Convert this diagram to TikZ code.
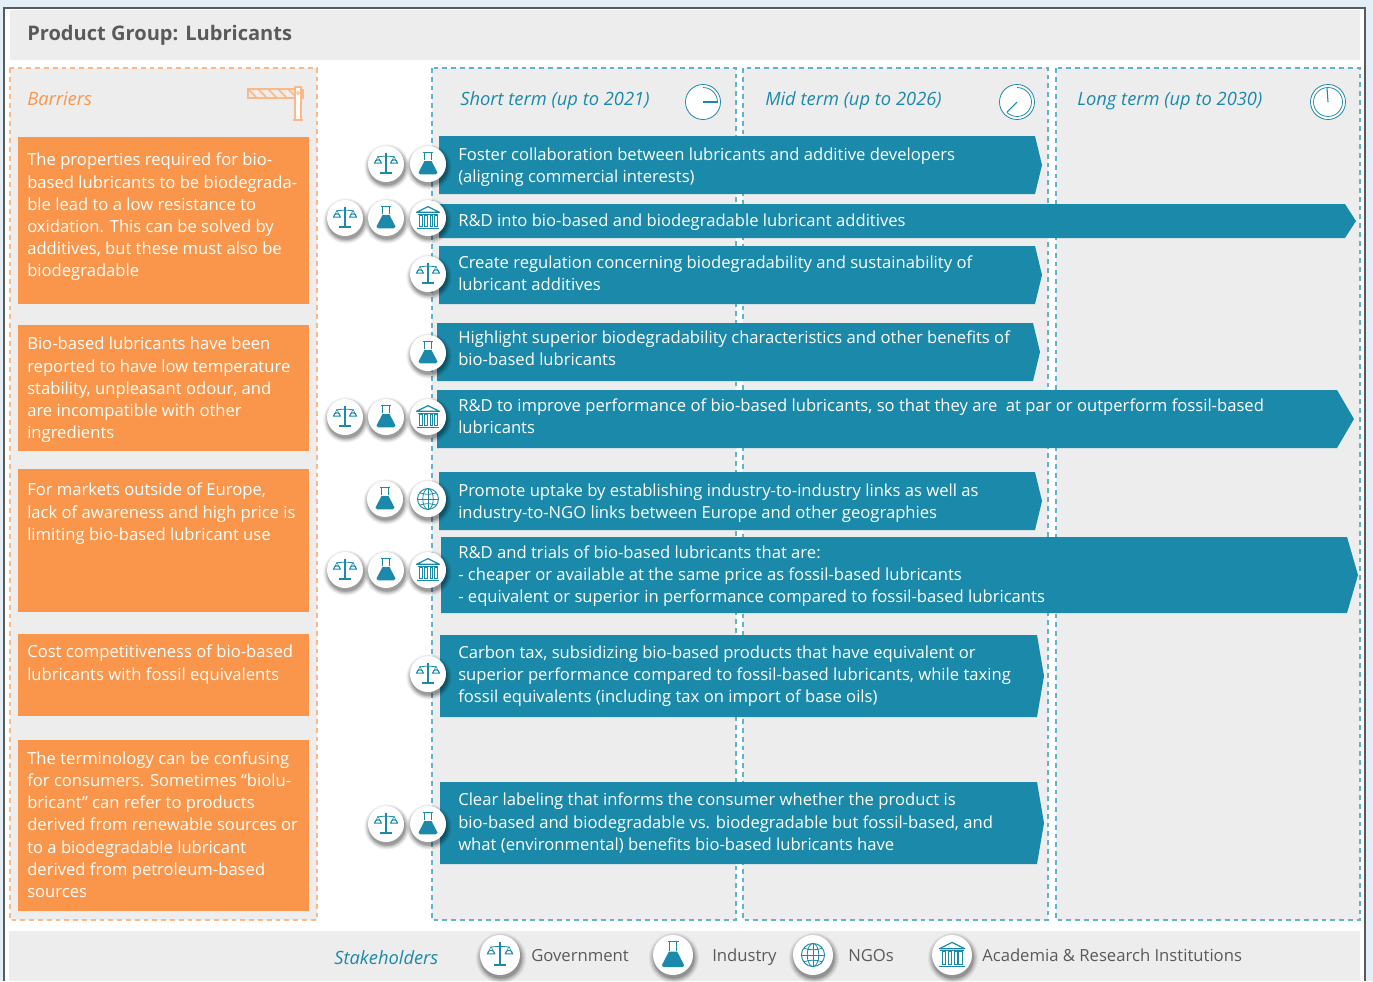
\documentclass[tikz,border=0pt]{standalone}
\usepackage{fontspec}
\setmainfont{Open Sans}
\definecolor{teal}{HTML}{1B89A9}
\definecolor{dashteal}{HTML}{62B2CA}
\definecolor{org}{HTML}{F9964B}
\definecolor{orgl}{HTML}{FBB98A}
\definecolor{pan}{HTML}{EDEDED}
\definecolor{sky}{HTML}{E3EEF6}
\definecolor{ttl}{HTML}{5A5A5A}
\tikzset{
  x=0.75pt,y=-0.75pt,
  panelbox/.style={fill=pan,draw=dashteal,line width=0.85pt,dash pattern=on 3.6pt off 3pt},
  barrierbox/.style={fill=pan,draw=orgl,line width=1pt,dash pattern=on 3.6pt off 3pt},
  bartext/.style={anchor=west,align=left,text=white,inner sep=0pt,font=\fontsize{12.47}{16.6}\selectfont},
  orgtext/.style={anchor=north west,align=left,text=white,inner sep=0pt,font=\fontsize{12.47}{16.6}\selectfont},
  headtext/.style={anchor=base west,inner sep=0pt,text=teal,font=\fontsize{13.75}{16}\selectfont\itshape},
  legtext/.style={anchor=base west,inner sep=0pt,text=ttl,font=\fontsize{12.5}{16}\selectfont},
  ico/.style={teal,line width=0.6pt},
}
\newcommand\badge[3]{%
  \foreach \k/\op in {1.26/0.05,1.20/0.07,1.14/0.09,1.08/0.11,1.03/0.13}{%
    \fill[black,opacity=\op] (#1+1,#2+3) circle[radius=#3*\k];}
  \fill[white] (#1,#2) circle[radius=#3];}
\newcommand\icgov[3]{\begin{scope}[shift={(#1,#2)},scale=#3]
  \draw[ico,line width=0.8pt] (0,-12)--(0,9);
  \draw[ico] (-9,-7.5) to[bend left=8] (9,-7.5);
  \draw[ico,line width=1.3pt] (-6,9.5)--(6,9.5);
  \draw[ico,line width=0.45pt] (-8.5,-8)--(-12,-1) (-8.5,-8)--(-5,-1) (8.5,-8)--(12,-1) (8.5,-8)--(5,-1);
  \draw[ico,line width=0.75pt] (-12,-1) arc[start angle=180,end angle=360,radius=3.5] --cycle;
  \draw[ico,line width=0.75pt] (5,-1) arc[start angle=180,end angle=360,radius=3.5] --cycle;
\end{scope}}
\newcommand\icflask[3]{\begin{scope}[shift={(#1,#2)},scale=#3]
  \draw[ico,line width=0.8pt] (-5,-12)--(5,-12) (-3.5,-12)--(-3.5,-4) (3.5,-12)--(3.5,-4);
  \fill[teal] (-3.8,-3)--(3.8,-3)--(10,9) to[out=270,in=0] (8,11)--(-8,11) to[out=180,in=270] (-10,9)--cycle;
\end{scope}}
\newcommand\icacad[3]{\begin{scope}[shift={(#1,#2)},scale=#3]
  \draw[ico,line width=0.9pt,line join=round] (-12,-6)--(0,-12)--(12,-6)--cycle;
  \draw[ico] (-11,-4)--(11,-4);
  \draw[ico] (-9,-3) rectangle (-6,9) (-3.5,-3)rectangle(-0.5,9) (2,-3)rectangle(5,9) (6.5,-3)rectangle(9.5,9);
  \draw[ico,line width=1pt] (-12,11)--(12,11);
\end{scope}}
\newcommand\icglobe[3]{\begin{scope}[shift={(#1,#2)},scale=#3]
  \draw[ico,line width=0.7pt] (0,0) circle[radius=11];
  \draw[ico] (0,0) ellipse[x radius=5.5,y radius=11];
  \draw[ico] (0,-11)--(0,11) (-11,0)--(11,0);
  \draw[ico] (-8.8,-6.5) to[bend right=18] (8.8,-6.5);
  \draw[ico] (-8.8,6.5) to[bend left=18] (8.8,6.5);
\end{scope}}
\newcommand\bargov[2]{\badge{#1}{#2}{18}\icgov{#1}{#2}{0.95}}
\newcommand\barflask[2]{\badge{#1}{#2}{18}\icflask{#1}{#2}{0.95}}
\newcommand\baracad[2]{\badge{#1}{#2}{18}\icacad{#1}{#2}{0.95}}
\newcommand\barglobe[2]{\badge{#1}{#2}{18}\icglobe{#1}{#2}{0.95}}
% name x1 x2 shoulder y1 y2 text-y text
\newcommand\actionbar[8]{%
  \fill[teal] (#2,#5)--(#4,#5)--(#3,{(#5+#6)/2})--(#4,#6)--(#2,#6)--cycle;
  \node[bartext] (#1) at (458,#7) {#8};}
% cx cy hand-dx hand-dy end-angle
\newcommand\clock[5]{%
  \fill[white] (#1,#2) circle[radius=17.5];
  \draw[teal,line width=0.6pt] (#1,#2) circle[radius=17.5];
  \draw[teal,line width=0.55pt] (#1,#2-14.5) arc[start angle=-90,end angle=#5,radius=14.5];
  \draw[teal,line width=0.8pt] (#1,#2)--(#1+#3,#2+#4);}
\begin{document}
\begin{tikzpicture}
\useasboundingbox (0,0) rectangle (1373,981);
\fill[sky] (0,0) rectangle (1373,981);
\fill[white] (4,8) rectangle (1365,981);
\draw[ttl,line width=0.8pt] (4,981)--(4,8)--(1365,8)--(1365,981);
\fill[pan] (10,10) rectangle (1360,60);
\node[anchor=base west,inner sep=0pt,text=ttl,font=\fontsize{15.05}{18}\selectfont\bfseries] (title) at (27,41) {Product Group: Lubricants};
\fill[pan] (9,931) rectangle (1360,981);
\draw[barrierbox] (10,68) rectangle (317,920);
\draw[panelbox] (432,68) rectangle (736,920);
\draw[panelbox] (743,68) rectangle (1048,920);
\draw[panelbox] (1056,68) rectangle (1360,920);
\node[headtext,text=org] (hb) at (27,105) {Barriers};
\node[headtext] (hs) at (460,105) {Short term (up to 2021)};
\node[headtext] (hm) at (765,105) {Mid term (up to 2026)};
\node[headtext] (hl) at (1077,105) {Long term (up to 2030)};
\clock{703}{102}{15}{0}{0}
\clock{1017}{102}{-10}{10}{135}
\clock{1328}{102}{-1}{-14}{270}
\begin{scope}[orgl,line width=0.8pt]
  \draw[line width=1.1pt] (248,89) rectangle (296,98);
  \clip (248,89) rectangle (296,98);
  \foreach \d in {248,258,268,278,288,298}{\draw[line width=1.1pt] (\d,89)--(\d+9,98);}
\end{scope}
\fill[white] (295,87) rectangle (301,120);
\draw[orgl,line width=0.8pt] (295,87) rectangle (301,120);
\draw[orgl,line width=0.8pt] (301,90) rectangle (303,98);
\draw[orgl,line width=0.7pt] (298,93) circle[radius=1.5];
\draw[orgl,line width=1pt] (293,120)--(303,120);
\fill[org] (18,137) rectangle (309,304);
\fill[org] (18,325) rectangle (309,451);
\fill[org] (18,469) rectangle (309,612);
\fill[org] (18,634) rectangle (309,716);
\fill[org] (18,740) rectangle (309,911);
\node[orgtext] (b1) at (27,153) {The properties required for bio-\\based lubricants to be biodegrada-\\ble lead to a low resistance to\\oxidation. This can be solved by\\additives, but these must also be\\biodegradable};
\node[orgtext] (b2) at (27,337) {Bio-based lubricants have been\\reported to have low temperature\\stability, unpleasant odour, and\\are incompatible with other\\ingredients};
\node[orgtext] (b3) at (27,483) {For markets outside of Europe,\\lack of awareness and high price is\\limiting bio-based lubricant use};
\node[orgtext] (b4) at (27,645) {Cost competitiveness of bio-based\\lubricants with fossil equivalents};
\node[orgtext] (b5) at (27,751.5) {The terminology can be confusing\\for consumers. Sometimes “biolu-\\bricant” can refer to products\\derived from renewable sources or\\to a biodegradable lubricant\\derived from petroleum-based\\sources};
\actionbar{a1}{439}{1042}{1035}{136}{194}{167}{Foster collaboration between lubricants and additive developers\\(aligning commercial interests)}
\actionbar{a2}{439}{1356}{1345}{204}{238}{222}{R\&D into bio-based and biodegradable lubricant additives}
\actionbar{a3}{439}{1042}{1035}{246}{304}{273.5}{Create regulation concerning biodegradability and sustainability of\\lubricant additives}
\actionbar{a4}{437}{1040}{1033}{323}{381}{348.5}{Highlight superior biodegradability characteristics and other benefits of\\bio-based lubricants}
\actionbar{a5}{437}{1354}{1337}{390}{448}{416}{R\&D to improve performance of bio-based lubricants, so that they are\ \ at par or outperform fossil-based\\lubricants}
\actionbar{a6}{439}{1042}{1035}{472}{530}{503}{Promote uptake by establishing industry-to-industry links as well as\\industry-to-NGO links between Europe and other geographies}
\actionbar{a7}{441}{1358}{1347}{537}{613}{576}{R\&D and trials of bio-based lubricants that are:\\- cheaper or available at the same price as fossil-based lubricants\\- equivalent or superior in performance compared to fossil-based lubricants}
\actionbar{a8}{440}{1044}{1037}{635}{717}{676}{Carbon tax, subsidizing bio-based products that have equivalent or\\superior performance compared to fossil-based lubricants, while taxing\\fossil equivalents (including tax on import of base oils)}
\actionbar{a9}{440}{1044}{1037}{782}{864}{823}{Clear labeling that informs the consumer whether the product is\\bio-based and biodegradable vs. biodegradable but fossil-based, and\\what (environmental) benefits bio-based lubricants have}
\bargov{386}{164}\barflask{428}{164}
\bargov{345}{218}\barflask{386}{218}\baracad{428}{218}
\bargov{428}{274}
\barflask{428}{353}
\bargov{345}{417}\barflask{386}{417}\baracad{428}{417}
\barflask{385}{499}\barglobe{428}{499}
\bargov{345}{570}\barflask{386}{570}\baracad{428}{570}
\bargov{428}{674}
\bargov{386}{824}\barflask{428}{824}
\node[headtext] (st) at (334,964) {Stakeholders};
\badge{500}{955}{20}\icgov{500}{955}{1.05}
\node[legtext] (l1) at (531,961) {Government};
\badge{673}{955}{20}\icflask{673}{955}{1.1}
\node[legtext] (l2) at (712,961) {Industry};
\badge{813}{955}{20}\icglobe{813}{955}{1.05}
\node[legtext] (l3) at (848,961) {NGOs};
\badge{952}{955}{20}\icacad{952}{955}{1.05}
\node[legtext] (l4) at (982,961) {Academia \& Research Institutions};
\end{tikzpicture}
\end{document}
